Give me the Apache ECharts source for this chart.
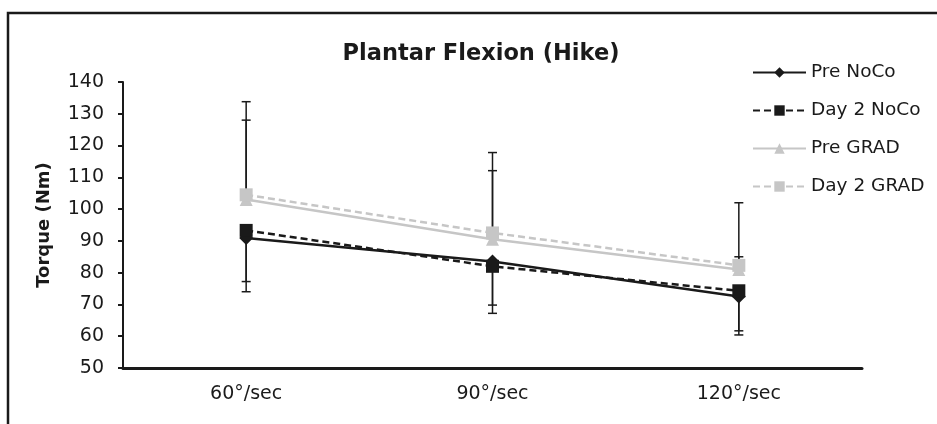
<!DOCTYPE html>
<html>
<head>
<meta charset="utf-8">
<script src="https://cdn.jsdelivr.net/npm/echarts@6/dist/echarts.min.js"></script>
<style>
html, body { margin: 0; padding: 0; background: #fff; }
#chart { width: 937px; height: 424px; }
</style>
</head>
<body>
<div id="chart"></div>
<script>
// categories and values
const categories = ['60°/sec', '90°/sec', '120°/sec'];
const preNoCo = [90.9, 83.5, 72.5];
const day2NoCo = [93.3, 82.0, 74.3];
const preGrad = [103.0, 90.5, 81.0];
const day2Grad = [104.5, 92.5, 82.3];
// error bar lengths (NoCo drawn downward, GRAD upward)
const preNoCoErr = [16.9, 16.3, 12.1];
const day2NoCoErr = [16.1, 12.2, 12.6];
const preGradErr = [25.0, 21.6, 4.0];
const day2GradErr = [29.3, 25.3, 19.7];

const FONT = '"DejaVu Sans", Arial, sans-serif';

function errData(vals, errs, dir) {
	return vals.map((v, i) => [i, v, v + dir * errs[i]]);
}

function errSeries(name, vals, errs, dir) {
	return {
		type: 'custom',
		name: name + ' err',
		z: 1,
		silent: true,
		data: errData(vals, errs, dir),
		renderItem: function (params, api) {
			const p0 = api.coord([api.value(0), api.value(1)]);
			const p1 = api.coord([api.value(0), api.value(2)]);
			const w = 4.5;
			const st = { stroke: '#1a1a1a', lineWidth: 1.5 };
			return {
				type: 'group',
				children: [
					{ type: 'line', shape: { x1: p0[0], y1: p0[1], x2: p1[0], y2: p1[1] }, style: st },
					{ type: 'line', shape: { x1: p1[0] - w, y1: p1[1], x2: p1[0] + w, y2: p1[1] }, style: st }
				]
			};
		}
	};
}

function lineSeries(name, data, color, dashed, symbol, size) {
	return {
		name: name,
		type: 'line',
		data: data,
		z: 3,
		symbol: symbol,
		symbolSize: size,
		showAllSymbol: true,
		itemStyle: { color: color },
		lineStyle: { color: color, width: 2.5, type: dashed ? [7, 4] : 'solid' },
		emphasis: { disabled: true }
	};
}

const chart = echarts.init(document.getElementById('chart'));
chart.setOption({
	animation: false,
	title: {
		text: 'Plantar Flexion (Hike)',
		left: 476,
		textAlign: 'center',
		top: 38,
		textStyle: { fontFamily: FONT, fontSize: 22.5, fontWeight: 'bold', color: '#1a1a1a' }
	},
	graphic: [{
		type: 'rect',
		shape: { x: 8, y: 13, width: 960, height: 440 },
		style: { fill: 'none', stroke: '#1a1a1a', lineWidth: 2.5 },
		silent: true
	}],
	legend: {
		orient: 'vertical',
		left: 752,
		top: 63,
		padding: 0,
		itemWidth: 53,
		itemHeight: 13,
		itemGap: 19,
		data: ['Pre NoCo', 'Day 2 NoCo', 'Pre GRAD', 'Day 2 GRAD'],
		textStyle: { fontFamily: FONT, fontSize: 18.5, lineHeight: 19, color: '#1a1a1a' }
	},
	grid: { left: 123, right: 75, top: 82, bottom: 56 },
	xAxis: {
		type: 'category',
		data: categories,
		boundaryGap: true,
		axisLine: { lineStyle: { color: '#1a1a1a', width: 3 } },
		axisTick: { length: 5, lineStyle: { color: '#1a1a1a', width: 2 } },
		axisLabel: { fontFamily: FONT, fontSize: 19, color: '#1a1a1a', margin: 17 }
	},
	yAxis: {
		type: 'value',
		min: 50,
		max: 140,
		interval: 10,
		name: 'Torque (Nm)',
		nameLocation: 'middle',
		nameGap: 70,
		nameTextStyle: { fontFamily: FONT, fontSize: 18, fontWeight: 'bold', color: '#1a1a1a' },
		axisLine: { show: true, lineStyle: { color: '#1a1a1a', width: 2 } },
		axisTick: { show: true, length: 5, lineStyle: { color: '#1a1a1a', width: 2 } },
		splitLine: { show: false },
		axisLabel: { fontFamily: FONT, fontSize: 19, color: '#1a1a1a', margin: 19 }
	},
	series: [
		errSeries('Pre NoCo', preNoCo, preNoCoErr, -1),
		errSeries('Day 2 NoCo', day2NoCo, day2NoCoErr, -1),
		errSeries('Pre GRAD', preGrad, preGradErr, 1),
		errSeries('Day 2 GRAD', day2Grad, day2GradErr, 1),
		lineSeries('Pre GRAD', preGrad, '#c6c6c6', false, 'triangle', 13),
		lineSeries('Day 2 GRAD', day2Grad, '#c6c6c6', true, 'rect', 13),
		lineSeries('Pre NoCo', preNoCo, '#1a1a1a', false, 'diamond', 14),
		lineSeries('Day 2 NoCo', day2NoCo, '#1a1a1a', true, 'rect', 13)
	]
});
</script>
</body>
</html>
